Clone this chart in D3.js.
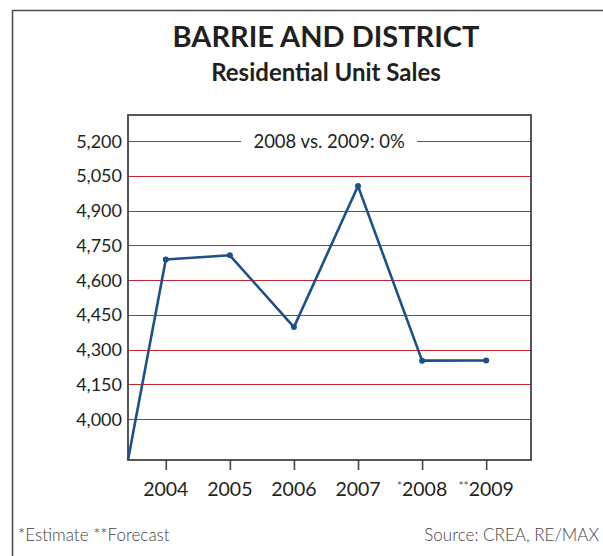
<!DOCTYPE html>
<html>
<head>
<meta charset="utf-8">
<script src="https://cdn.jsdelivr.net/npm/d3@7"></script>
<style>
    body { margin: 0; background: #fff; }
    svg { display: block; font-family: Lato, "Open Sans", sans-serif; }
</style>
</head>
<body>
<script>
"use strict";
// chart values
const years = [2004, 2005, 2006, 2007, 2008, 2009]
const yearLabels = ["2004", "2005", "2006", "2007", "2008", "2009"]
const yearMarks = ["", "", "", "", "*", "**"]
const sales = [4689, 4707, 4397, 5006, 4252, 4253]
const yTicks = [4000, 4150, 4300, 4450, 4600, 4750, 4900, 5050, 5200]
const yDomain = [3823, 5313]
const xDomain = [2003.41, 2009.7]
const title = "BARRIE AND DISTRICT"
const subtitle = "Residential Unit Sales"
const note = "2008 vs. 2009: 0%"
const footLeft = "*Estimate **Forecast"
const footRight = "Source: CREA, RE/MAX"

;(function(){
    const measurements = {
        width: 603,
        height: 556,
        left: 128,
        right: 531,
        top: 115,
        bottom: 460
    }
    const textColor = "#231f20"

    let svgContainer = d3.select("body").append("svg")
        .attr("width", measurements.width)
        .attr("height", measurements.height)

    // outer frame, runs off the right and bottom of the page
    svgContainer.append("path")
        .attr("d", "M12.5,560 V10.5 H610")
        .attr("fill", "none")
        .attr("stroke", "#4a4a4a")
        .attr("stroke-width", 1.5)

    svgContainer.append("text")
        .attr("x", 326).attr("y", 47)
        .attr("text-anchor", "middle")
        .attr("font-size", 29).attr("font-weight", "bold")
        .attr("fill", textColor)
        .text(title)

    svgContainer.append("text")
        .attr("x", 326).attr("y", 81)
        .attr("text-anchor", "middle")
        .attr("font-size", 24).attr("font-weight", "bold")
        .attr("fill", textColor)
        .text(subtitle)

    let scaleX = d3.scaleLinear()
        .domain(xDomain)
        .range([measurements.left, measurements.right])
    let scaleY = d3.scaleLinear()
        .domain(yDomain)
        .range([measurements.bottom, measurements.top])

    // red gridlines
    const noteX = scaleX(2006.55)
    yTicks.forEach(function(t) {
        let y = Math.round(scaleY(t)) + 0.5
        if (t === 5200) {
            svgContainer.append("line")
                .attr("x1", measurements.left).attr("x2", noteX - 88)
                .attr("y1", y).attr("y2", y)
                .attr("stroke", "#c4262e").attr("stroke-width", 1.2)
            svgContainer.append("line")
                .attr("x1", noteX + 88).attr("x2", measurements.right)
                .attr("y1", y).attr("y2", y)
                .attr("stroke", "#c4262e").attr("stroke-width", 1.2)
            svgContainer.append("text")
                .attr("x", noteX).attr("y", y + 6.5)
                .attr("text-anchor", "middle")
                .attr("font-size", 18.5)
                .attr("fill", textColor)
                .text(note)
        } else {
            svgContainer.append("line")
                .attr("x1", measurements.left).attr("x2", measurements.right)
                .attr("y1", y).attr("y2", y)
                .attr("stroke", "#c4262e").attr("stroke-width", 1.2)
        }
    })

    // y labels
    svgContainer.selectAll(".ylab")
        .data(yTicks)
        .enter()
        .append("text")
            .attr("class", "ylab")
            .attr("x", 122)
            .attr("y", d => scaleY(d) + 6.5)
            .attr("text-anchor", "end")
            .attr("font-size", 18)
            .attr("fill", textColor)
            .text(d => d3.format(",")(d))

    // plot box
    svgContainer.append("rect")
        .attr("x", measurements.left).attr("y", measurements.top)
        .attr("width", measurements.right - measurements.left)
        .attr("height", measurements.bottom - measurements.top)
        .attr("fill", "none")
        .attr("stroke", "#444")
        .attr("stroke-width", 1.8)

    // x ticks and labels
    let xAxis = d3.axisBottom(scaleX)
        .tickValues(years)
        .tickSize(10)
        .tickFormat("")
    let axisG = svgContainer.append("g")
        .attr("transform", "translate(0," + measurements.bottom + ")")
        .call(xAxis)
    axisG.select(".domain").remove()
    axisG.selectAll(".tick line").attr("stroke", "#444").attr("stroke-width", 1.6)

    let labels = svgContainer.selectAll(".xlab")
        .data(years)
        .enter()
        .append("text")
            .attr("class", "xlab")
            .attr("x", d => scaleX(d))
            .attr("y", 496)
            .attr("text-anchor", "middle")
            .attr("font-size", 19.5)
            .attr("fill", textColor)
    labels.append("tspan")
        .attr("font-size", 12)
        .attr("dy", -6)
        .attr("fill", "#555")
        .text((d, i) => yearMarks[i])
    labels.append("tspan")
        .attr("dy", (d, i) => yearMarks[i] ? 6 : 0)
        .text((d, i) => yearLabels[i])

    // sales line, starting from the chart's lower-left corner
    let points = [[xDomain[0], yDomain[0]]].concat(years.map((y, i) => [y, sales[i]]))
    let line = d3.line()
        .x(d => scaleX(d[0]))
        .y(d => scaleY(d[1]))
    svgContainer.append("path")
        .datum(points)
        .attr("d", line)
        .attr("fill", "none")
        .attr("stroke", "#1d4f8a")
        .attr("stroke-width", 2.6)
        .attr("stroke-linejoin", "round")

    svgContainer.selectAll(".dot")
        .data(years)
        .enter()
        .append("circle")
            .attr("class", "dot")
            .attr("cx", d => scaleX(d))
            .attr("cy", (d, i) => scaleY(sales[i]))
            .attr("r", 3)
            .attr("fill", "#1d4f8a")

    // footer
    svgContainer.append("text")
        .attr("x", 18).attr("y", 541)
        .attr("font-size", 17)
        .attr("font-weight", 300)
        .attr("fill", "#444")
        .text(footLeft)
    svgContainer.append("text")
        .attr("x", 599).attr("y", 541)
        .attr("text-anchor", "end")
        .attr("font-size", 17)
        .attr("font-weight", 300)
        .attr("fill", "#444")
        .text(footRight)
})()
</script>
</body>
</html>
